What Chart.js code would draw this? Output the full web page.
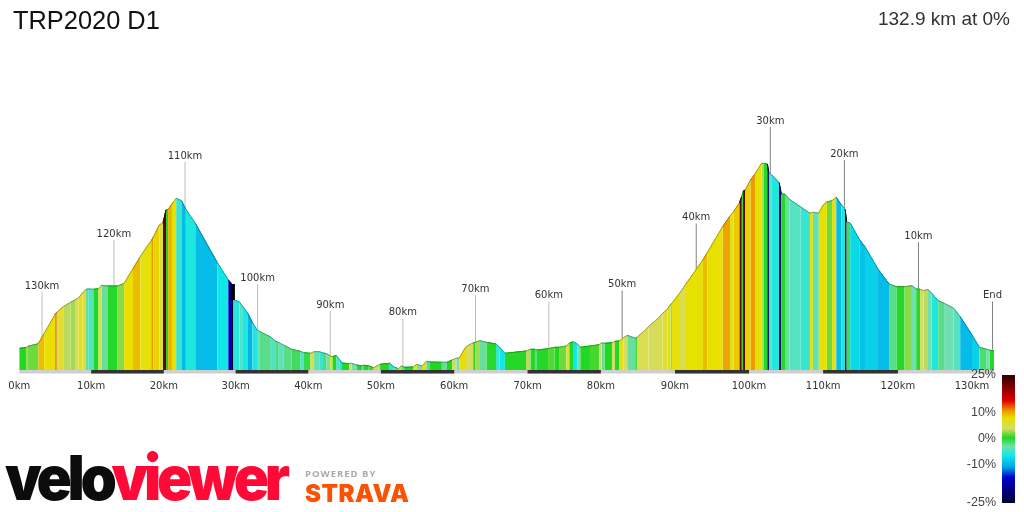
<!DOCTYPE html>
<html>
<head>
<meta charset="utf-8">
<title>TRP2020 D1</title>
<script src="https://cdn.jsdelivr.net/npm/chart.js@4"></script>
<style>
  html, body { margin: 0; padding: 0; background: #fff; overflow: hidden; }
  #wrap { position: relative; width: 1024px; height: 512px; font-family: "Liberation Sans", sans-serif; color: #222; }
  #wrap div, #wrap span { position: absolute; white-space: nowrap; }
  #title { left: 13px; top: 5px; font-size: 25.4px; line-height: 30px; color: #111; }
  #distance { right: 14px; top: 7px; font-size: 19px; line-height: 24px; color: #333; }
  .scaleLabel { right: 28px; font-size: 12.5px; line-height: 14px; color: #444; }
  #scaleBar { left: 1002px; top: 375px; width: 13px; height: 128px; }
  #logo { left: 5px; top: 443px; font-family: Inter, sans-serif; font-weight: 900; font-size: 62px; line-height: 70px; letter-spacing: -4.6px; color: #0c0c0c; transform: scaleX(0.94); transform-origin: left center; }
  #logo b { font-weight: 900; color: #ff0a36; }
  #powered { left: 305px; top: 468px; font-family: "Open Sans", sans-serif; font-weight: 700; font-size: 9.5px; line-height: 12px; letter-spacing: 1px; color: #aaa; }
  #strava { left: 305px; top: 479px; font-family: Inter, sans-serif; font-weight: 900; font-size: 24px; line-height: 30px; letter-spacing: 0.5px; color: #fc5200; }
</style>
</head>
<body>
<div id="wrap">
  <canvas id="chart" width="1024" height="512"></canvas>
  <div id="title">TRP2020 D1</div>
  <div id="distance">132.9 km at 0%</div>
  <div id="scaleBar"></div>
  <div id="logo">velo<b>viewer</b></div>
  <div id="powered">POWERED BY</div>
  <div id="strava">STRAVA</div>
</div>
<script>
// profile, one entry per gradient band
const distKm = [
  0.0, 0.9, 1.2, 2.6, 3.4, 4.9, 5.1, 6.0, 7.0, 7.6,
  8.1, 8.6, 9.1, 9.4, 10.1, 10.8, 11.2, 12.1, 13.4, 14.3,
  15.5, 16.5, 17.4, 18.0, 18.3, 19.1, 19.6, 20.0, 20.3, 20.8,
  21.4, 22.1, 22.7, 24.0, 27.0, 28.5, 29.0, 29.2, 30.0, 30.4,
  31.1, 31.8, 32.4, 32.8, 34.2, 34.9, 35.3, 36.0, 37.1, 38.3,
  38.8, 39.7, 40.2, 40.9, 41.4, 41.9, 42.4, 42.7, 43.2, 43.7,
  44.0, 45.0, 45.3, 46.0, 46.7, 46.9, 47.6, 48.3, 49.2, 50.5,
  51.0, 51.7, 52.1, 52.5, 53.7, 54.2, 54.9, 55.5, 56.0, 57.6,
  58.3, 59.0, 59.6, 60.0, 60.9, 61.9, 62.2, 62.8, 63.7, 65.0,
  65.5, 66.2, 69.1, 69.7, 70.3, 70.6, 72.1, 73.0, 73.6, 74.6,
  75.0, 75.5, 76.1, 76.5, 77.8, 79.1, 79.4, 79.8, 80.8, 81.2,
  81.8, 82.4, 82.9, 84.0, 84.2, 85.8, 87.1, 87.7, 88.4, 88.8,
  89.0, 90.1, 90.9, 93.2, 93.8, 95.9, 96.9, 97.4, 98.2, 98.5,
  98.7, 99.0, 99.7, 100.3, 101.2, 101.5, 102.0, 102.2, 102.6, 103.6,
  103.9, 104.4, 105.0, 106.5, 107.8, 108.2, 109.0, 109.6, 110.1, 110.8,
  111.4, 112.1, 112.6, 112.8, 113.3, 114.6, 115.3, 117.1, 118.6, 119.6,
  120.7, 121.7, 122.3, 122.8, 123.3, 123.9, 124.4, 125.3, 126.1, 127.4,
  128.3, 129.9, 130.9, 131.9, 132.3, 132.9
];
const elevM = [
  217, 223, 237, 263, 367, 557, 577, 633, 677, 700,
  723, 767, 807, 810, 807, 813, 847, 840, 840, 867,
  1013, 1133, 1233, 1293, 1333, 1450, 1473, 1600, 1607, 1660,
  1717, 1693, 1607, 1467, 1073, 900, 860, 700, 683, 640,
  573, 473, 400, 383, 333, 290, 277, 250, 207, 187,
  173, 167, 183, 183, 170, 163, 140, 133, 147, 100,
  70, 63, 67, 50, 40, 47, 43, 23, 57, 67,
  33, 13, 40, 27, 30, 57, 37, 87, 80, 77,
  77, 100, 117, 120, 233, 273, 277, 293, 277, 260,
  227, 167, 190, 207, 207, 200, 213, 227, 227, 240,
  267, 283, 260, 227, 240, 253, 270, 267, 273, 287,
  290, 323, 347, 317, 323, 433, 517, 567, 610, 657,
  667, 775, 860, 1100, 1173, 1433, 1540, 1583, 1673, 1733,
  1790, 1800, 1900, 1957, 2067, 2067, 2060, 1967, 1950, 1873,
  1760, 1757, 1707, 1633, 1567, 1577, 1567, 1650, 1680, 1693,
  1727, 1650, 1607, 1483, 1467, 1300, 1233, 1007, 860, 833,
  833, 843, 810, 807, 793, 807, 767, 693, 667, 617,
  533, 350, 227, 207, 197, 193
];
// gradient of the band that starts at the same index
const gradePct = [
  0.5, 3, 2, 9.5, 8, 12, 6, 3.5, 3, 5,
  7, 6, -2.5, -4, 0.5, 5, -2.5, 0.3, 2.5, 8,
  9.5, 7.5, 8, 11, 8.5, 6, 22, 0.5, 10, 8,
  -5, -9.5, -6, -9.5, -6.5, -16, -30, -5.5, -4, -6,
  -10, -6, -3.5, -2, -4, -1.5, -3.5, -2, -1, -4,
  -0.5, 6, -3.5, -5, -1.5, -3, 8, 0.5, -4, -6,
  0.3, 4, -3, 0.5, -3, 0.5, 1, 4, 0.3, -6,
  -2, 8, -6, 0.5, 7, -3, 8, -2, 0.5, -2.5,
  0.5, 4, -3, 8, 4.5, 0.3, 3, -2.5, 0.2, -5,
  -6.5, 0.3, 3.5, 0.3, -2, 0.3, 1.5, 0.5, 2, 6,
  0.3, -6.5, -3, 0.4, 1.2, 4, -2.5, 0.5, 4, 0.5,
  7, 4, -2.5, 0.3, 5, 4.5, 5, 6, 8, -3,
  7.5, 5, 8, 9.5, 8, 10.5, 7, 9, 22, 1,
  22, 8.5, 11, 8, 3, 0.3, -22, -4, -6, -22,
  0.3, -2.5, -4, -5, 7, -3.5, 8, 8, 2, 7,
  -9.5, -6, -28, -1, -7.5, -9, -8, -9.5, -2, 0.3,
  2.5, -3, 0.2, 4, 3.5, -3, -6, -2, -3, -4,
  -9.5, -8, -1.5, -3, 0.3, 0.3
];

// the very steep drop just after 29km stands out as a short dark block
const steepKm = 29.1;
const steepElevM = [860, 700];

// distance axis along the bottom
const tickKm = [0, 9.8, 19.7, 29.5, 39.4, 49.3, 59.3, 69.3, 79.3, 89.4, 99.5, 109.6, 119.8, 129.9];
const tickLabels = ['0km', '10km', '20km', '30km', '40km', '50km', '60km', '70km', '80km', '90km', '100km', '110km', '120km', '130km'];

// distance-to-go flags
const flagLabels = ['130km', '120km', '110km', '100km', '90km', '80km', '70km', '60km', '50km', '40km', '30km', '20km', '10km', 'End'];
const flagKm = [3.1, 12.9, 22.6, 32.5, 42.4, 52.3, 62.2, 72.2, 82.2, 92.3, 102.4, 112.5, 122.6, 132.7];
const flagElevM = [300, 820, 1600, 380, 110, 35, 270, 205, 315, 985, 1950, 1620, 800, 205];

// gradient colour scale
const scaleTicks = [25, 10, 0, -10, -25];
const scaleColors = [
  [25, '#2e0000'], [15, '#e00000'], [11, '#ee9a00'], [8, '#e8e000'], [4, '#d4dc68'],
  [0.5, '#20d820'], [-3, '#70e0b0'], [-6.5, '#10e8e8'], [-11, '#00a4e8'], [-15, '#0000d0'], [-25, '#000030']
];

const FLAG_HEIGHT = 480;

function hex(c) {
  return [1, 3, 5].map(i => parseInt(c.substr(i, 2), 16));
}

function gradeColor(g, dim) {
  const s = scaleColors;
  let rgb = hex(g >= s[0][0] ? s[0][1] : s[s.length - 1][1]);
  for (let i = 0; i < s.length - 1; i++) {
    if (g <= s[i][0] && g >= s[i + 1][0]) {
      const t = (s[i][0] - g) / (s[i][0] - s[i + 1][0]);
      const a = hex(s[i][1]), b = hex(s[i + 1][1]);
      rgb = a.map((v, k) => v + (b[k] - v) * t);
    }
  }
  return 'rgb(' + rgb.map(v => Math.round(v * (dim || 1))).join(',') + ')';
}

// legend on the right
const stops = scaleColors.map(s => s[1] + ' ' + ((25 - s[0]) * 2) + '%');
document.getElementById('scaleBar').style.background = 'linear-gradient(to bottom,' + stops.join(',') + ')';
scaleTicks.forEach(t => {
  const el = document.createElement('div');
  el.className = 'scaleLabel';
  el.textContent = t + '%';
  el.style.top = (367 + (25 - t) * 2.56) + 'px';
  document.getElementById('wrap').appendChild(el);
});

const profile = distKm.map((km, i) => ({x: km, y: elevM[i]}));

const flagLines = [];
flagKm.forEach((km, i) => {
  flagLines.push({x: km, y: flagElevM[i]}, {x: km, y: flagElevM[i] + FLAG_HEIGHT}, {x: km, y: NaN});
});

const darkBars = [];
for (let i = 1; i + 1 < tickKm.length; i += 2) {
  darkBars.push({x: tickKm[i], y: -17}, {x: tickKm[i + 1], y: -17}, {x: tickKm[i + 1], y: NaN});
}

const flagText = {
  id: 'flagText',
  afterDatasetsDraw(chart) {
    const {ctx, scales: {x, y}} = chart;
    ctx.save();
    ctx.font = '10px "DejaVu Sans"';
    ctx.fillStyle = '#333';
    ctx.textAlign = 'center';
    ctx.textBaseline = 'middle';
    flagLabels.forEach((label, i) => {
      ctx.fillText(label, x.getPixelForValue(flagKm[i]), y.getPixelForValue(flagElevM[i] + FLAG_HEIGHT) - 6);
    });
    ctx.restore();
  }
};

// drawn twice so the seams between bands do not show white
const bandLayer = () => ({
  data: profile,
  borderWidth: 1,
  pointRadius: 0,
  tension: 0,
  fill: 'origin',
  segment: {
    backgroundColor: c => gradeColor(gradePct[c.p0DataIndex]),
    borderColor: c => gradeColor(gradePct[c.p0DataIndex], 0.75)
  }
});

new Chart(document.getElementById('chart'), {
  type: 'line',
  data: {
    datasets: [
      {
        data: darkBars,
        borderColor: '#333',
        borderWidth: 3.5,
        pointRadius: 0,
        clip: false
      },
      {
        data: [{x: 0, y: -17}, {x: 132.9, y: -17}],
        borderColor: '#cfcfcf',
        borderWidth: 3.5,
        pointRadius: 0,
        clip: false
      },
      {
        data: steepElevM.map(e => ({x: steepKm, y: e})),
        borderColor: '#000',
        borderWidth: 4.4,
        pointRadius: 0
      },
      bandLayer(),
      bandLayer(),
      {
        data: flagLines,
        borderWidth: 1,
        pointRadius: 0,
        segment: {
          borderColor: c => (c.p0DataIndex < 24 ? '#bdbdbd' : '#808080')
        }
      }
    ]
  },
  options: {
    responsive: false,
    animation: false,
    layout: {autoPadding: false, padding: {left: 19.3, right: 30, top: 20, bottom: 0}},
    plugins: {legend: {display: false}, tooltip: {enabled: false}},
    scales: {
      x: {
        type: 'linear',
        min: 0,
        max: 132.9,
        // transparent ticks push the labels down without widening the side margins
        grid: {drawOnChartArea: false, drawTicks: true, tickLength: 9, tickColor: 'transparent'},
        border: {display: false},
        afterBuildTicks: s => { s.ticks = tickKm.map(v => ({value: v})); },
        afterFit: s => { s.height = 142; },
        ticks: {
          autoSkip: false,
          maxRotation: 0,
          padding: 1,
          color: '#333',
          font: {family: '"DejaVu Sans"', size: 10},
          callback: (v, i) => tickLabels[i]
        }
      },
      y: {type: 'linear', display: false, min: 0, max: 3500}
    }
  },
  plugins: [flagText]
});
</script>
</body>
</html>
